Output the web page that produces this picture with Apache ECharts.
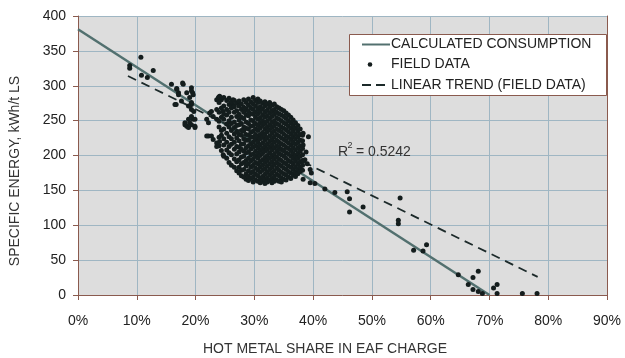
<!DOCTYPE html>
<html>
<head>
<meta charset="utf-8">
<script src="https://cdn.jsdelivr.net/npm/echarts@6/dist/echarts.min.js"></script>
<style>
html,body{margin:0;padding:0;background:#fff;}
#chart{width:625px;height:358px;}
</style>
</head>
<body>
<div id="chart"></div>
<script>
// ---- data ----
const xTicks = [0, 10, 20, 30, 40, 50, 60, 70, 80, 90];
const yTicks = [0, 50, 100, 150, 200, 250, 300, 350, 400];
const calculatedLine = [[0, 381], [70, 0]];
const trendLine = [[8.5, 314], [78.2, 26]];
const rSquared = '0.5242';

// scattered field points [x %, kWh/t]
const fieldOutliers = [
  [8.8,329],[8.8,325],[10.7,341],[10.8,315],[11.8,312],[12.8,322],
  [15.9,302],[17.8,304],[16.8,296],[17.1,290],[16.7,273],[17.6,278],[18.5,290],
  [19.3,297],[19.5,290],[19.0,271],[19.3,266],[18.8,252],[19.0,247],[19.6,252],
  [18.5,242],[19.9,240],[19.3,256],[21.9,252],[22.4,261],[23.9,283],[23.6,266],
  [22.2,228],[23.0,223],[17.9,302],[19.6,287],[19.3,273],[18.2,247],[19.9,242],
  [23.0,256],[22.2,247],[23.6,218],[24.7,201],[16.8,295],[17.1,287],[16.5,273],
  [19.3,293],[19.0,283],[19.3,276],[18.8,271],[19.7,263],[19.3,244],[18.8,240],
  [19.9,252],[18.2,244],[22.7,263],[23.6,280],[24.1,285],[23.6,252],[24.7,263],
  [21.9,228],[22.7,228],[23.6,213],[24.1,220],[26.4,280],[26.3,273],
  [38.3,232],[39.2,227],[38.3,215],[38.6,194],[39.5,180],[39.7,175],[39.5,161],
  [38.3,166],[38.8,205],[39.0,188],[40.3,160],[42.0,152],[43.7,147],[45.8,148],
  [46.2,138],[46.2,119],[48.5,126],[54.8,139],[54.5,107],[54.5,102],[57.1,64],
  [59.3,72],[58.7,63],[64.7,29],[67.2,25],[68.1,34],[66.4,15],[67.2,8],[68.1,5],
  [68.8,2],[70.7,10],[71.3,15],[71.3,2],[75.6,2],[78.1,2]
];

// dense cluster, read column by column: [x %, [kWh/t values]]
const fieldColumns = [
  [24.0, [284, 276, 262, 249, 241, 226, 214]],
  [24.4, [280, 268, 255, 236, 229, 207]],
  [24.8, [283, 271, 259, 252, 238, 224, 215, 199]],
  [25.3, [279, 266, 258, 245, 232, 219, 208, 196]],
  [25.7, [282, 273, 262, 250, 241, 227, 213, 204, 190]],
  [26.1, [277, 268, 255, 246, 236, 224, 216, 201, 186]],
  [26.6, [279, 270, 262, 248, 240, 231, 219, 209, 195, 183]],
  [27.0, [275, 264, 256, 243, 234, 225, 213, 202, 191, 178]],
  [27.4, [278, 271, 259, 251, 244, 230, 221, 212, 205, 194, 183, 175]],
  [27.8, [274, 266, 255, 246, 236, 229, 216, 209, 198, 188, 179, 171]],
  [28.2, [280, 269, 262, 253, 241, 235, 224, 217, 206, 199, 190, 180, 169]],
  [28.6, [276, 267, 258, 248, 239, 230, 222, 211, 204, 193, 185, 174, 166]],
  [29.0, [281, 272, 263, 257, 246, 238, 229, 222, 214, 205, 196, 188, 178, 170, 164]],
  [29.4, [277, 268, 260, 251, 242, 233, 226, 217, 209, 201, 192, 183, 175, 167]],
  [29.8, [283, 274, 266, 259, 250, 243, 235, 226, 219, 212, 202, 195, 186, 177, 169, 162]],
  [30.2, [279, 271, 262, 255, 246, 238, 230, 223, 214, 206, 199, 190, 182, 173, 165]],
  [30.6, [281, 276, 267, 260, 252, 243, 236, 227, 219, 211, 203, 196, 188, 179, 171, 163]],
  [31.0, [278, 270, 263, 254, 247, 239, 230, 224, 215, 207, 200, 191, 184, 176, 167, 161]],
  [31.4, [275, 267, 258, 250, 243, 233, 226, 218, 210, 203, 194, 186, 179, 170, 163]],
  [31.8, [277, 271, 262, 255, 246, 238, 229, 222, 213, 206, 197, 190, 181, 173, 166, 160]],
  [32.2, [274, 265, 257, 249, 241, 234, 225, 216, 209, 200, 193, 185, 176, 168, 162]],
  [32.6, [276, 269, 261, 253, 244, 237, 228, 220, 212, 204, 196, 188, 180, 172, 164]],
  [33.0, [272, 264, 256, 248, 240, 232, 223, 215, 208, 199, 191, 183, 175, 167, 161]],
  [33.4, [274, 266, 259, 250, 243, 235, 227, 219, 211, 202, 195, 187, 178, 170, 163]],
  [33.8, [270, 262, 254, 246, 238, 230, 222, 214, 206, 198, 190, 182, 173, 165]],
  [34.2, [268, 260, 252, 244, 236, 228, 219, 212, 203, 195, 187, 179, 171, 163]],
  [34.6, [266, 258, 250, 241, 234, 225, 217, 209, 201, 193, 185, 176, 168, 162]],
  [35.0, [264, 256, 247, 239, 231, 223, 215, 207, 199, 190, 182, 174, 166]],
  [35.4, [261, 253, 245, 237, 228, 221, 212, 204, 196, 188, 180, 172, 165]],
  [35.8, [258, 250, 242, 234, 226, 218, 210, 202, 193, 185, 177, 169]],
  [36.2, [255, 247, 239, 231, 223, 215, 207, 199, 191, 183, 175, 167]],
  [36.6, [251, 243, 235, 227, 219, 211, 203, 196, 188, 180, 172]],
  [37.0, [247, 239, 231, 224, 216, 208, 200, 192, 184, 176, 170]],
  [37.4, [243, 235, 227, 219, 211, 203, 196, 188, 180, 174]],
  [37.8, [238, 230, 222, 214, 206, 199, 191, 183, 177]],
  [38.2, [229, 221, 210, 201, 193, 186, 179]]
];

const fieldData = fieldOutliers.slice();
fieldColumns.forEach(function (col) {
  col[1].forEach(function (v) { fieldData.push([col[0], v]); });
});

// ---- chart ----
const AXIS = '#8a5a4e';
const GRID = '#9fb6c3';
const TXT = '#222';
const FONT = '"Liberation Sans", Arial, sans-serif';

const chart = echarts.init(document.getElementById('chart'), null, {renderer: 'canvas'});
chart.setOption({
  animation: false,
  backgroundColor: '#fff',
  grid: {
    left: 78, right: 18, top: 16, bottom: 63,
    show: true, backgroundColor: '#dddddd', borderWidth: 0
  },
  xAxis: {
    type: 'value', min: xTicks[0], max: xTicks[xTicks.length - 1], interval: 10,
    axisLine: {show: true, lineStyle: {color: AXIS, width: 1}},
    axisTick: {show: true, length: 5, lineStyle: {color: AXIS}},
    axisLabel: {formatter: '{value}%', color: TXT, fontSize: 14, fontFamily: FONT, margin: 19},
    splitLine: {show: true, lineStyle: {color: GRID, width: 1}}
  },
  yAxis: [{
    type: 'value', min: yTicks[0], max: yTicks[yTicks.length - 1], interval: 50,
    axisLine: {show: true, lineStyle: {color: AXIS, width: 1}},
    axisTick: {show: true, length: 5, lineStyle: {color: AXIS}},
    axisLabel: {color: TXT, fontSize: 14, fontFamily: FONT, margin: 12},
    splitLine: {show: true, lineStyle: {color: GRID, width: 1}}
  }, {
    type: 'value', position: 'right', min: 0, max: 400, interval: 50,
    axisLine: {show: true, lineStyle: {color: AXIS, width: 1}},
    axisTick: {show: false}, axisLabel: {show: false}, splitLine: {show: false}
  }],
  series: [{
    name: 'CALCULATED CONSUMPTION', type: 'line', data: calculatedLine,
    showSymbol: false, symbol: 'none',
    lineStyle: {color: '#52706f', width: 2.5}, z: 2
  }, {
    name: 'LINEAR TREND (FIELD DATA)', type: 'line', data: trendLine,
    showSymbol: false, symbol: 'none',
    lineStyle: {color: '#1c2a2a', width: 1.8, type: [9, 6]}, z: 2
  }, {
    name: 'FIELD DATA', type: 'scatter', data: fieldData,
    symbol: 'circle', symbolSize: 5,
    itemStyle: {color: '#141d1d', opacity: 1}, z: 3
  }],
  graphic: [
    {type: 'rect', shape: {x: 349.5, y: 34.5, width: 257, height: 61},
     style: {fill: '#fff', stroke: AXIS, lineWidth: 1}, z: 10},
    {type: 'line', shape: {x1: 362, y1: 44.5, x2: 390, y2: 44.5},
     style: {stroke: '#52706f', lineWidth: 2}, z: 11},
    {type: 'text', x: 391, y: 44.5, z: 11,
     style: {text: 'CALCULATED CONSUMPTION', fill: TXT, font: '14px ' + FONT, textVerticalAlign: 'middle'}},
    {type: 'circle', shape: {cx: 370, cy: 64.5, r: 2.3}, style: {fill: '#141d1d'}, z: 11},
    {type: 'text', x: 391, y: 64.5, z: 11,
     style: {text: 'FIELD DATA', fill: TXT, font: '14px ' + FONT, textVerticalAlign: 'middle'}},
    {type: 'line', shape: {x1: 362, y1: 85, x2: 390, y2: 85},
     style: {stroke: '#1c2a2a', lineWidth: 1.8, lineDash: [9, 5]}, z: 11},
    {type: 'text', x: 391, y: 85, z: 11,
     style: {text: 'LINEAR TREND (FIELD DATA)', fill: TXT, font: '14px ' + FONT, textVerticalAlign: 'middle'}},
    {type: 'text', x: 338, y: 152, z: 11,
     style: {text: 'R', fill: '#333', font: '14px ' + FONT, textVerticalAlign: 'middle'}},
    {type: 'text', x: 347.5, y: 146, z: 11,
     style: {text: '2', fill: '#333', font: '9px ' + FONT, textVerticalAlign: 'middle'}},
    {type: 'text', x: 356, y: 152, z: 11,
     style: {text: '= ' + rSquared, fill: '#333', font: '14px ' + FONT, textVerticalAlign: 'middle'}},
    {type: 'text', x: 325, y: 349, z: 11,
     style: {text: 'HOT METAL SHARE IN EAF CHARGE', fill: '#333', font: '14px ' + FONT,
             textAlign: 'center', textVerticalAlign: 'middle'}},
    {type: 'text', x: 15, y: 171, rotation: Math.PI / 2, z: 11,
     style: {text: 'SPECIFIC ENERGY, kWh/t LS', fill: '#333', font: '14px ' + FONT,
             textAlign: 'center', textVerticalAlign: 'middle'}}
  ]
});
</script>
</body>
</html>
